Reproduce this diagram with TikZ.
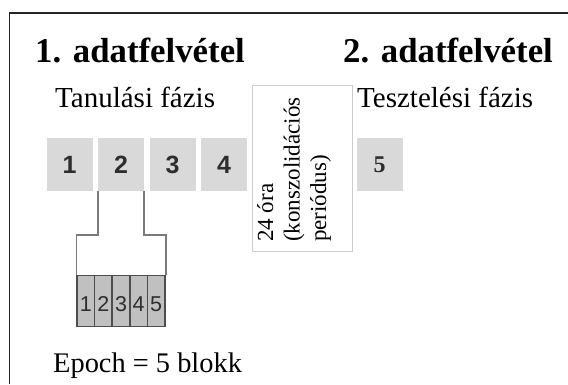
\documentclass[tikz,border=0pt]{standalone}
\usepackage{fontspec}
\setmainfont{Liberation Serif}
\newfontfamily\blocksans{Liberation Sans}
\definecolor{blockgray}{HTML}{D9D9D9}
\definecolor{cellgray}{HTML}{C0C0C0}
\definecolor{cellline}{HTML}{4D4D4D}
\definecolor{linkgray}{HTML}{7A7A7A}
\definecolor{digitgray}{HTML}{2E2E2E}
\definecolor{pausegray}{HTML}{CCCCCC}
\tikzset{
  heading/.style={anchor=base west, inner sep=0pt, font=\fontsize{34.8}{40}\selectfont\bfseries},
  phase/.style={anchor=base west, inner sep=0pt, font=\fontsize{29}{34}\selectfont},
  block/.style={fill=blockgray, minimum width=46pt, minimum height=53pt, inner sep=0pt,
    text=digitgray, font=\blocksans\fontsize{25}{29}\selectfont\bfseries},
  cell/.style={draw=cellline, line width=1.5pt, fill=cellgray, minimum width=17.6pt,
    minimum height=51pt, inner sep=0pt},
  celldigit/.style={inner sep=0pt, text=digitgray, font=\blocksans\fontsize{21.5}{24}\selectfont},
  link/.style={draw=linkgray, line width=1.5pt},
}
\begin{document}
\begin{tikzpicture}[x=1pt, y=-1pt]
\useasboundingbox (0,0) rectangle (568,384);
% outer frame (open towards the right and bottom)
\draw[line width=1.3pt, black!85] (9.5,384) -- (9.5,13) -- (568,13);

% headings
\node[heading] (h1) at (35,62) {1. adatfelvétel};
\node[heading] (h2) at (343,62) {2. adatfelvétel};
\node[phase] (learn) at (55,107) {Tanulási fázis};
\node[phase] (test) at (357,107) {Tesztelési fázis};

% learning blocks
\node[block] (b1) at (69.5,164.5) {1};
\node[block] (b2) at (121,164.5) {2};
\node[block] (b3) at (172.5,164.5) {3};
\node[block] (b4) at (224,164.5) {4};

% consolidation pause
\node[draw=pausegray, line width=1pt, minimum width=100pt, minimum height=166pt, inner sep=0pt]
  (pause) at (302,168) {};
\node[rotate=90, anchor=base west, inner sep=0pt, align=left,
  font=\fontsize{23}{26.5}\selectfont] (pausetext) at (326,242)
  {24 óra\\(konszolidációs\\periódus)};

% test block
\node[block, font=\fontsize{24}{28}\selectfont\bfseries] (b5) at (379.5,164.5) {5};

% epoch of five short blocks
\foreach \i in {1,...,5} {
  \node[cell] (c\i) at ({77+17.6*(\i-0.5)},301) {};
  \node[celldigit] at ({77+17.6*(\i-0.5)},304) {\i};
}

% brackets from block 2 to the epoch
\draw[link] (b2.south west) -- ++(0,44) -| (c1.north west);
\draw[link] (b2.south east) -- ++(0,44) -| (c5.north east);

\node[phase, font=\fontsize{28.4}{33}\selectfont] (epoch) at (53,372) {Epoch = 5 blokk};
\end{tikzpicture}
\end{document}
